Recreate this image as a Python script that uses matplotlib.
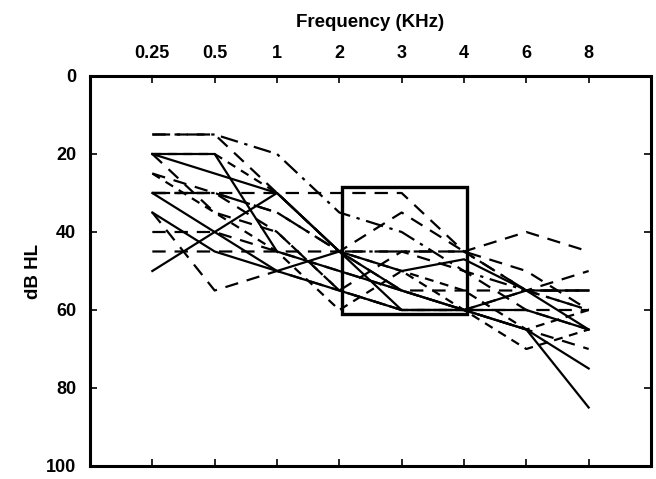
import matplotlib
matplotlib.use("Agg")
import matplotlib.pyplot as plt
from matplotlib.patches import Rectangle

plt.rcParams['font.family'] = ['Liberation Sans', 'DejaVu Sans']

freqs = ['0.25', '0.5', '1', '2', '3', '4', '6', '8']
yticks = [0, 20, 40, 60, 80, 100]

solid_1 = [20, 20, 45, 50, 55, 60, 65, 85]
solid_2 = [20, 25, 30, 45, 60, 60, 65, 75]
solid_3 = [50, 40, 30, 45, 55, 60, 55, 55]
solid_4 = [30, 40, 50, 55, 60, 60, 60, 65]
solid_5 = [35, 45, 50, 45, 50, 47, 55, 65]
dashed_1 = [30, 30, 30, 30, 30, 45, 40, 45]
dashed_2 = [45, 45, 45, 45, 45, 45, 55, 50]
dashed_3 = [40, 40, 45, 50, 55, 55, 55, 55]
dashed_4 = [15, 15, 30, 45, 55, 60, 60, 60]
dashed_5 = [20, 35, 40, 55, 60, 60, 65, 70]
dashed_6 = [35, 55, 50, 55, 60, 60, 55, 60]
dashed_7 = [30, 30, 40, 55, 45, 50, 60, 65]
dashed_8 = [25, 30, 35, 45, 35, 45, 50, 60]
dashdot_1 = [15, 15, 20, 35, 40, 50, 55, 60]
dashdot_2 = [30, 30, 35, 45, 45, 45, 55, 55]
short_1 = [25, 35, 45, 60, 50, 60, 70, 65]
short_2 = [20, 20, 30, 45, 50, 55, 65, 60]

box_x = [3.05, 5.05]
box_y = [28.5, 61]

series = [
    (solid_1, '-'), (solid_2, '-'), (solid_3, '-'), (solid_4, '-'), (solid_5, '-'),
    (dashed_1, (0, (6, 4))), (dashed_2, (0, (6, 4))), (dashed_3, (0, (6, 4))),
    (dashed_4, (0, (6, 4))), (dashed_5, (0, (6, 4))), (dashed_6, (0, (6, 4))),
    (dashed_7, (0, (6, 4))), (dashed_8, (0, (6, 4))),
    (dashdot_1, (0, (8, 3, 1.5, 3))), (dashdot_2, (0, (8, 3, 1.5, 3))),
    (short_1, (0, (4, 3))), (short_2, (0, (4, 3))),
]

fig = plt.figure(figsize=(6.56, 4.79), dpi=100)
ax = fig.add_axes([90/656, 1-466/479, (651-90)/656, (466-76)/479])
xs = list(range(len(freqs)))
for vals, ls in series:
    ax.plot(xs, vals, color='black', linestyle=ls, linewidth=1.6)

ax.add_patch(Rectangle((box_x[0], box_y[0]), box_x[1]-box_x[0], box_y[1]-box_y[0],
                       fill=False, edgecolor='black', linewidth=2.4))

ax.set_xlim(-1, 8)
ax.set_ylim(100, 0)
ax.set_xticks(xs)
ax.set_xticklabels(freqs)
ax.set_yticks(yticks)
ax.xaxis.set_ticks_position('both')
ax.yaxis.set_ticks_position('both')
ax.xaxis.set_label_position('top')
ax.tick_params(axis='x', which='both', direction='in', labeltop=True, labelbottom=False, length=5, width=1.2, pad=10)
ax.tick_params(axis='y', which='both', direction='in', length=5, width=1.2, pad=10)
for lab in ax.get_xticklabels() + ax.get_yticklabels():
    lab.set_fontweight('bold')
    lab.set_fontsize(13)
for sp in ax.spines.values():
    sp.set_linewidth(2.2)
ax.set_xlabel('Frequency (KHz)', fontsize=13.5, fontweight='bold', labelpad=13)
ax.set_ylabel('dB HL', fontsize=13.5, fontweight='bold', labelpad=3)

fig.savefig('out.png', dpi=100)
